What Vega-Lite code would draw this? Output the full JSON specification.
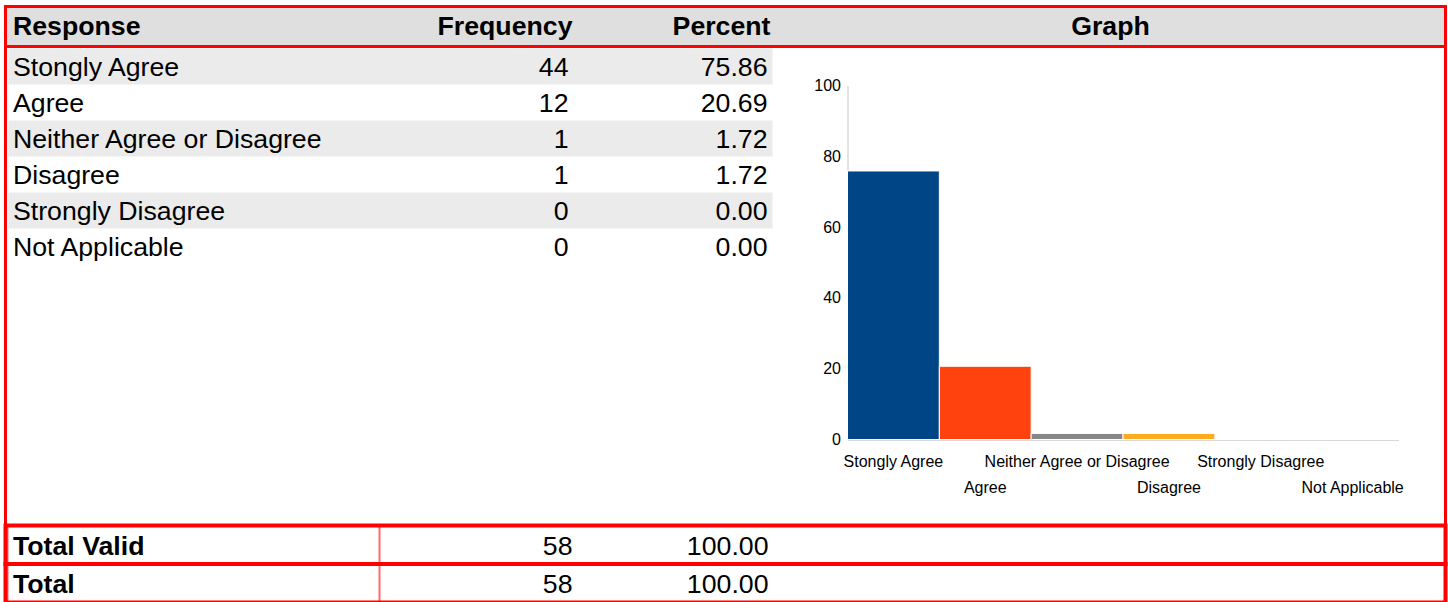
{
  "$schema": "https://vega.github.io/schema/vega-lite/v6.json",
  "padding": {"left": 3.5, "top": 4.5, "right": 0, "bottom": 0},
  "background": "white",
  "spacing": 0,
  "bounds": "flush",
  "config": {
    "view": {"stroke": null},
    "text": {"font": "Liberation Sans", "fontSize": 26.7, "color": "#000000"},
    "axis": {"labelFont": "Liberation Sans", "labelColor": "#000000"}
  },
  "datasets": {
    "header": [
      {"column": "Response"}, {"column": "Frequency"}, {"column": "Percent"}, {"column": "Graph"}
    ],
    "responses": [
      {"Response": "Stongly Agree", "Frequency": 44, "Percent": 75.86},
      {"Response": "Agree", "Frequency": 12, "Percent": 20.69},
      {"Response": "Neither Agree or Disagree", "Frequency": 1, "Percent": 1.72},
      {"Response": "Disagree", "Frequency": 1, "Percent": 1.72},
      {"Response": "Strongly Disagree", "Frequency": 0, "Percent": 0.0},
      {"Response": "Not Applicable", "Frequency": 0, "Percent": 0.0}
    ],
    "totals": [
      {"Response": "Total Valid", "Frequency": 58, "Percent": 100.0},
      {"Response": "Total", "Frequency": 58, "Percent": 100.0}
    ]
  },
  "vconcat": [
    {
      "width": 1440, "height": 40,
      "data": {"name": "header"},
      "view": {"fill": "#dfdfdf", "stroke": "#ff0000", "strokeWidth": 3},
      "layer": [
        {"transform": [{"filter": "datum.column === 'Response'"}],
         "mark": {"type": "text", "align": "left", "fontWeight": "bold"},
         "encoding": {"x": {"value": 7.5}, "text": {"field": "column", "type": "nominal"}}},
        {"transform": [{"filter": "datum.column === 'Frequency'"}],
         "mark": {"type": "text", "align": "right", "fontWeight": "bold"},
         "encoding": {"x": {"value": 567}, "text": {"field": "column", "type": "nominal"}}},
        {"transform": [{"filter": "datum.column === 'Percent'"}],
         "mark": {"type": "text", "align": "right", "fontWeight": "bold"},
         "encoding": {"x": {"value": 765}, "text": {"field": "column", "type": "nominal"}}},
        {"transform": [{"filter": "datum.column === 'Graph'"}],
         "mark": {"type": "text", "align": "center", "fontWeight": "bold"},
         "encoding": {"x": {"value": 1105}, "text": {"field": "column", "type": "nominal"}}}
      ]
    },
    {
      "width": 1440, "height": 479,
      "data": {"name": "responses"},
      "view": {"stroke": "#ff0000", "strokeWidth": 3},
      "resolve": {"scale": {"y": "independent"}, "axis": {"y": "independent"}},
      "layer": [
        {
          "encoding": {
            "y": {"field": "Response", "type": "nominal", "sort": null, "axis": null,
              "scale": {"domain": ["Stongly Agree", "Agree", "Neither Agree or Disagree", "Disagree", "Strongly Disagree", "Not Applicable"], "range": [2, 218], "paddingInner": 0, "paddingOuter": 0}}
          },
          "layer": [
            {"transform": [{"filter": "indexof(['Stongly Agree','Neither Agree or Disagree','Strongly Disagree'], datum.Response) >= 0"}],
             "mark": {"type": "rect", "color": "#ebebeb"},
             "encoding": {"x": {"value": 3}, "x2": {"value": 767}}},
            {"mark": {"type": "text", "align": "left", "dy": 1.5},
             "encoding": {"x": {"value": 7.5}, "text": {"field": "Response", "type": "nominal"}}},
            {"mark": {"type": "text", "align": "right", "dy": 1.5},
             "encoding": {"x": {"value": 563}, "text": {"field": "Frequency", "type": "quantitative"}}},
            {"mark": {"type": "text", "align": "right", "dy": 1.5},
             "encoding": {"x": {"value": 762}, "text": {"field": "Percent", "type": "quantitative", "format": ".2f"}}}
          ]
        },
        {
          "mark": {"type": "bar", "stroke": "#ffffff", "strokeWidth": 1},
          "encoding": {
            "x": {"field": "Response", "type": "nominal", "sort": null,
              "scale": {"range": [842, 1393], "paddingInner": 0, "paddingOuter": 0},
              "axis": {"title": null, "orient": "bottom", "offset": -86, "labelAngle": 0, "ticks": false, "tickSize": 0,
                "domainColor": "#b3b3b3", "labelFontSize": 16, "labelLimit": 0,
                "labelOverlap": false, "labelBaseline": "top", "labelAlign": "center",
                "labelPadding": {"condition": {"test": "indexof(['Agree','Disagree','Not Applicable'], datum.value) >= 0", "value": 40}, "value": 14}}},
            "y": {"field": "Percent", "type": "quantitative", "stack": null,
              "scale": {"domain": [0, 100], "range": [393, 39], "nice": false},
              "axis": {"title": null, "orient": "left", "offset": -842, "values": [0, 20, 40, 60, 80, 100], "ticks": false, "tickSize": 0,
                "domainColor": "#c8c8c8", "gridColor": "#dedede", "labelFontSize": 16, "labelPadding": 7}},
            "color": {"field": "Response", "type": "nominal", "sort": null, "legend": null,
              "scale": {"domain": ["Stongly Agree", "Agree", "Neither Agree or Disagree", "Disagree", "Strongly Disagree", "Not Applicable"],
                "range": ["#004586", "#ff420e", "#878787", "#ffab1f", "#579d1c", "#7e0021"]}}
          }
        }
      ]
    },
    {
      "width": 1440, "height": 75,
      "data": {"name": "totals"},
      "encoding": {
        "y": {"field": "Response", "type": "nominal", "sort": null, "axis": null,
          "scale": {"domain": ["Total Valid", "Total"], "range": [0, 77], "paddingInner": 0, "paddingOuter": 0}}
      },
      "layer": [
        {"mark": {"type": "rect", "fill": null, "fillOpacity": 0, "stroke": "#ff6a6a", "strokeWidth": 2},
         "encoding": {"x": {"value": 2}, "x2": {"value": 374}}},
        {"mark": {"type": "rect", "fill": null, "fillOpacity": 0, "stroke": "#ff0000", "strokeWidth": 4},
         "encoding": {"x": {"value": 0}, "x2": {"value": "width"}}},
        {"mark": {"type": "text", "align": "left", "fontWeight": "bold", "dy": 2},
         "encoding": {"x": {"value": 7.5}, "text": {"field": "Response", "type": "nominal"}}},
        {"mark": {"type": "text", "align": "right", "dy": 2},
         "encoding": {"x": {"value": 567}, "text": {"field": "Frequency", "type": "quantitative"}}},
        {"mark": {"type": "text", "align": "right", "dy": 2},
         "encoding": {"x": {"value": 763}, "text": {"field": "Percent", "type": "quantitative", "format": ".2f"}}}
      ]
    }
  ]
}
